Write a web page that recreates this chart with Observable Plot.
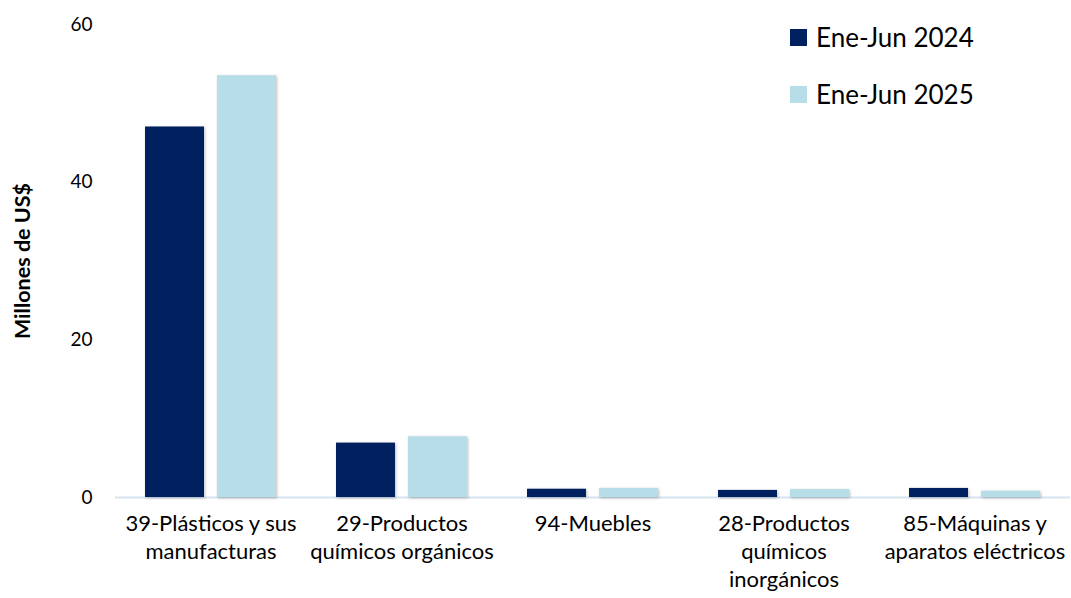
<!DOCTYPE html>
<html>
<head>
<meta charset="utf-8">
<script src="https://cdn.jsdelivr.net/npm/d3@7"></script>
<script src="https://cdn.jsdelivr.net/npm/@observablehq/plot@0.6"></script>
<style>
  html, body { margin: 0; padding: 0; background: #fff; }
  #wrap { position: relative; width: 1071px; height: 598px; font-family: Lato, "Open Sans", sans-serif; }
  #legend { position: absolute; left: 790px; top: 22px; font-size: 26px; color: #000; }
  #legend .item { display: flex; align-items: center; height: 30px; margin-bottom: 27px; }
  #legend .sw { width: 17px; height: 17px; margin-right: 9px; }
  g[aria-label="y-axis label"] text { font-weight: bold; font-size: 21.5px; }
  g[aria-label="bar"] rect { filter: drop-shadow(1px 1px 1.5px rgba(0,0,0,0.25)); }
</style>
</head>
<body>
<div id="wrap">
  <div id="chart"></div>
  <div id="legend"></div>
</div>
<script>
const categories = [
  "39-Plásticos y sus\nmanufacturas",
  "29-Productos\nquímicos orgánicos",
  "94-Muebles",
  "28-Productos\nquímicos\ninorgánicos",
  "85-Máquinas y\naparatos eléctricos"
];
const series = ["Ene-Jun 2024", "Ene-Jun 2025"];
const values2024 = [47.0, 6.9, 1.05, 0.9, 1.15];
const values2025 = [53.5, 7.7, 1.15, 1.0, 0.8];
const yTicks = [0, 20, 40, 60];
const colors = ["#002060", "#B7DDE8"];

const data = [];
categories.forEach((c, i) => {
  data.push({category: c, series: series[0], value: values2024[i]});
  data.push({category: c, series: series[1], value: values2025[i]});
});

const chart = Plot.plot({
  width: 1071,
  height: 598,
  marginLeft: 115,
  marginRight: 1,
  marginTop: 24,
  marginBottom: 101,
  style: {fontFamily: "Lato, 'Open Sans', sans-serif", fontSize: "19px", color: "#000", background: "#fff", overflow: "visible"},
  fx: {domain: categories, padding: 0, label: null, axis: null},
  x: {domain: series, axis: null, paddingInner: 0.18, paddingOuter: 0.4},
  y: {domain: [0, 60], ticks: yTicks},
  color: {domain: series, range: colors},
  marks: [
    Plot.axisY({ticks: yTicks, tickSize: 0, tickPadding: 23, label: "Millones de US$", labelAnchor: "center", labelArrow: "none", labelOffset: 101}),
    Plot.axisFx({anchor: "bottom", tickSize: 0, tickPadding: 14, lineHeight: 1.26, fontSize: 22, label: null}),
    Plot.ruleY([0], {stroke: "#D5E3F0", strokeWidth: 2}),
    Plot.barY(data, {fx: "category", x: "series", y: "value", fill: "series"})
  ]
});

document.getElementById("chart").appendChild(chart);

const legend = document.getElementById("legend");
series.forEach((s, i) => {
  const item = document.createElement("div");
  item.className = "item";
  const sw = document.createElement("div");
  sw.className = "sw";
  sw.style.background = colors[i];
  const t = document.createElement("span");
  t.textContent = s;
  item.appendChild(sw);
  item.appendChild(t);
  legend.appendChild(item);
});
</script>
</body>
</html>
